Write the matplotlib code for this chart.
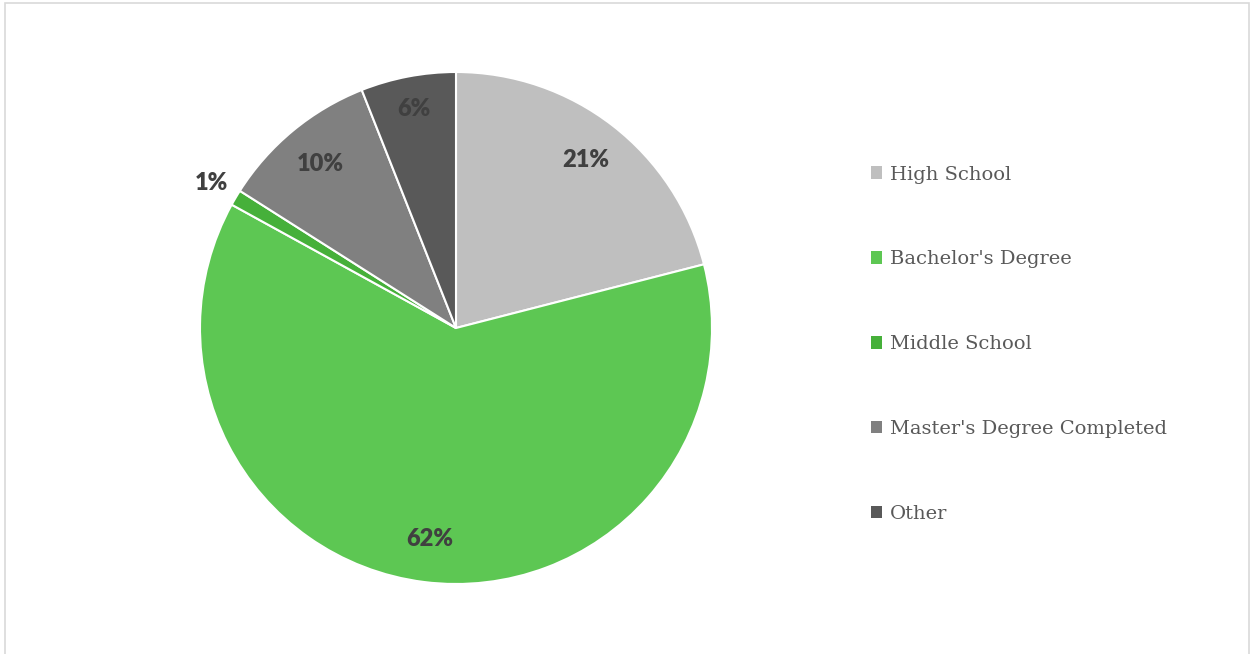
import matplotlib
matplotlib.use("Agg")
import matplotlib.pyplot as plt
from matplotlib.patches import Rectangle, Patch
import numpy as np

categories = ["High School", "Bachelor's Degree", "Middle School",
              "Master's Degree Completed", "Other"]
values = [21, 62, 1, 10, 6]
colors = ["#BFBFBF", "#5DC753", "#46B03A", "#808080", "#595959"]

W, H = 1251, 654
fig = plt.figure(figsize=(W / 100, H / 100), dpi=100)
fig.patch.set_facecolor("white")

# outer border
fig.add_artist(Rectangle((5 / W, -0.05), (1249 - 5) / W, (652 - 0) / H + 0.05 - 1 / H,
                         transform=fig.transFigure, fill=False,
                         edgecolor="#D9D9D9", linewidth=1.2))

cx, cy, r = 456, 328, 256
ax = fig.add_axes([(cx - r) / W, (H - cy - r) / H, 2 * r / W, 2 * r / H])
wedges, texts, autotexts = ax.pie(
    values, colors=colors, startangle=90, counterclock=False, radius=1.0,
    autopct=lambda p: f"{p:.0f}%", pctdistance=0.83,
    wedgeprops=dict(edgecolor="white", linewidth=1.5),
    textprops=dict(fontsize=17, fontweight="heavy", color="#404040", family="Lato"))
ax.set_xlim(-1, 1)
ax.set_ylim(-1, 1)
ax.set_aspect("equal")
ax.axis("off")

# small slice label placed outside
for w, t, v in zip(wedges, autotexts, values):
    ang = np.deg2rad((w.theta1 + w.theta2) / 2)
    if v < 3:
        t.set_position((1.11 * np.cos(ang), 1.11 * np.sin(ang)))
    elif v < 8:
        t.set_position((0.87 * np.cos(ang), 0.87 * np.sin(ang)))

handles = [Patch(facecolor=c, edgecolor="none") for c in colors]
leg = fig.legend(handles, categories, loc="upper left",
                 bbox_to_anchor=(853 / W, 1 - 148 / H),
                 frameon=False, handlelength=0.6, handleheight=0.6,
                 handletextpad=0.4, labelspacing=3.44,
                 prop=dict(family="DejaVu Serif", size=14))
for t in leg.get_texts():
    t.set_color("#595959")

fig.savefig("out.png", dpi=100)
